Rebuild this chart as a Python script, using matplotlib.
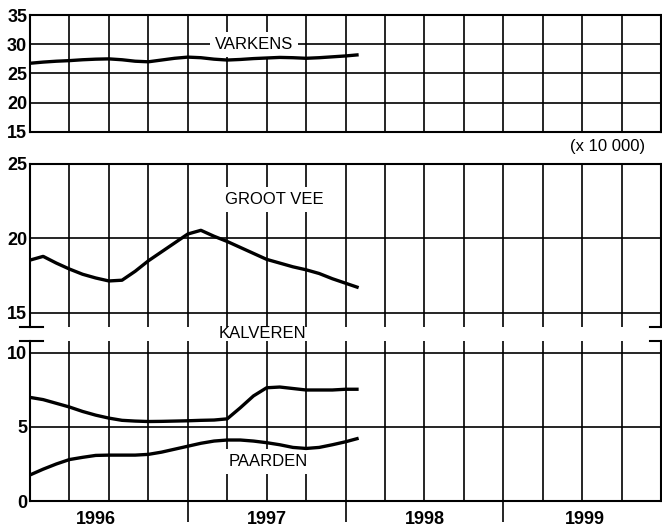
import numpy as np
import matplotlib
matplotlib.use("Agg")
import matplotlib.pyplot as plt
from matplotlib.transforms import blended_transform_factory

plt.rcParams['font.family'] = ['Liberation Sans', 'DejaVu Sans']

# ---- data (x 10 000), monthly from Jan 1996 ----
months = np.arange(26)
varkens = [26.75, 26.95, 27.1, 27.2, 27.35, 27.45, 27.5, 27.35, 27.1, 27.0,
           27.3, 27.6, 27.8, 27.7, 27.45, 27.3, 27.4, 27.55, 27.65, 27.75,
           27.7, 27.6, 27.7, 27.85, 28.0, 28.2]
groot_vee = [18.55, 18.8, 18.35, 17.95, 17.6, 17.35, 17.15, 17.2, 17.8, 18.5,
             19.1, 19.7, 20.3, 20.55, 20.15, 19.8, 19.4, 19.0, 18.6, 18.35,
             18.1, 17.9, 17.65, 17.3, 17.0, 16.7]
kalveren = [7.0, 6.85, 6.6, 6.35, 6.05, 5.8, 5.6, 5.45, 5.4, 5.37,
            5.38, 5.4, 5.42, 5.45, 5.47, 5.55, 6.3, 7.1, 7.65, 7.7,
            7.6, 7.5, 7.5, 7.5, 7.55, 7.55]
paarden = [1.76, 2.15, 2.5, 2.8, 2.95, 3.08, 3.1, 3.1, 3.1, 3.15,
           3.3, 3.5, 3.7, 3.9, 4.05, 4.12, 4.12, 4.05, 3.94, 3.8,
           3.62, 3.55, 3.62, 3.8, 4.0, 4.24]
years = ["1996", "1997", "1998", "1999"]
year_label_pos = [1996.42, 1997.5, 1998.5, 1999.52]
top_ticks = [15, 20, 25, 30, 35]
mid_ticks = [15, 20, 25]
bot_ticks = [0, 5, 10]

x = 1996 + months / 12.0

W, H = 662, 529
fig = plt.figure(figsize=(W / 100, H / 100), dpi=100)

def px_axes(x0, x1, ytop, ybot):
    return fig.add_axes([x0 / W, 1 - ybot / H, (x1 - x0) / W, (ybot - ytop) / H])

ax1 = px_axes(30, 661, 15, 132)
ax2 = px_axes(30, 661, 164, 327)
ax3 = px_axes(30, 661, 341, 501)

ax1.set_ylim(15, 35)
ax2.set_ylim(14.06, 25)
ax3.set_ylim(0, 10.81)

GRID_LW = 1.2
SP_LW = 1.5
for ax, ticks in [(ax1, top_ticks), (ax2, mid_ticks), (ax3, bot_ticks)]:
    ax.set_xlim(1996, 2000)
    ax.set_yticks(ticks)
    ax.set_yticklabels([str(t) for t in ticks], fontsize=13, fontweight='bold')
    ax.tick_params(axis='y', length=0, pad=2)
    ax.set_xticks([])
    for q in np.arange(1996.25, 2000, 0.25):
        ax.axvline(q, color='black', lw=GRID_LW, zorder=1)
    for t in ticks:
        ax.axhline(t, color='black', lw=GRID_LW, zorder=1)
    for s in ax.spines.values():
        s.set_linewidth(SP_LW)

ax2.spines['bottom'].set_visible(False)
ax3.spines['top'].set_visible(False)

# break marks
bx_l = (-10 / 631, 13 / 631)
bx_r = (620 / 631, 1.0)
for ax, yy in [(ax2, 0), (ax3, 1)]:
    ax.plot(bx_l, [yy, yy], transform=ax.transAxes, color='black', lw=SP_LW, clip_on=False)
    ax.plot(bx_r, [yy, yy], transform=ax.transAxes, color='black', lw=SP_LW, clip_on=False)

# data lines
LW = 2.4
ax1.plot(x, varkens, color='black', lw=LW, zorder=5, solid_capstyle='butt')
ax2.plot(x, groot_vee, color='black', lw=LW, zorder=5, solid_capstyle='butt')
ax3.plot(x, kalveren, color='black', lw=LW, zorder=5, solid_capstyle='butt')
ax3.plot(x, paarden, color='black', lw=LW, zorder=5, solid_capstyle='butt')

# year boundary ticks and labels
tr = blended_transform_factory(ax3.transData, ax3.transAxes)
ax3.vlines([1997, 1998, 1999], -21 / 160, 0, transform=tr, color='black',
           lw=GRID_LW, clip_on=False)
for lab, p in zip(years, year_label_pos):
    ax3.text(p, -18 / 160, lab, transform=tr, ha='center', va='center',
             fontsize=13, fontweight='bold')

box = dict(facecolor='white', edgecolor='none', boxstyle='square,pad=0.3')
ax1.text(1997.42, 30, "VARKENS", ha='center', va='center', fontsize=12, bbox=box, zorder=4)
ax2.text(1997.55, 22.6, "GROOT VEE", ha='center', va='center', fontsize=12, bbox=box, zorder=4)
ax3.text(1997.51, 2.64, "PAARDEN", ha='center', va='center', fontsize=12, bbox=box, zorder=4)
fig.text(262 / W, 1 - 333 / H, "KALVEREN", ha='center', va='center', fontsize=12)
fig.text(645 / W, 1 - 147 / H, "(x 10 000)", ha='right', va='center', fontsize=12)

fig.savefig("out.png", dpi=100, facecolor='white')
